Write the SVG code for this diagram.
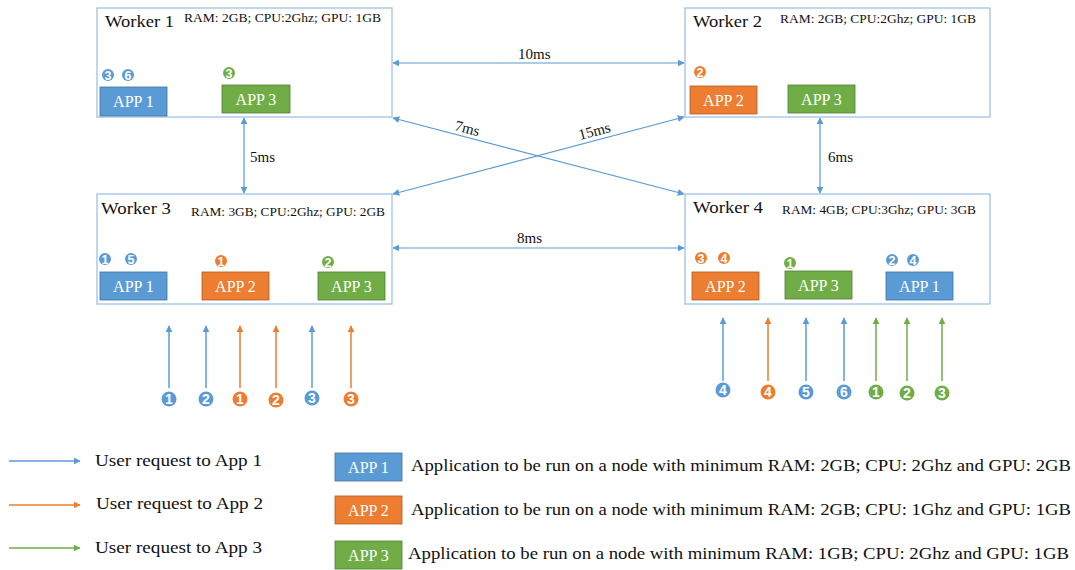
<svg xmlns="http://www.w3.org/2000/svg" width="1075" height="570" viewBox="0 0 1075 570">
<style>
.worker{fill:#fff;stroke:#9DC3E6;stroke-width:1.3}
.wt{font-family:"Liberation Serif",serif;font-size:16px;fill:#111}
.spec{font-family:"Liberation Serif",serif;font-size:12px;fill:#111}
.app{stroke-width:0.8}
.a1{fill:#5B9BD5;stroke:#41719C}
.a2{fill:#ED7D31;stroke:#AE5A21}
.a3{fill:#70AD47;stroke:#507E32}
.at{font-family:"Liberation Serif",serif;font-size:16px;fill:#fff;text-anchor:middle}
.num{font-family:"Liberation Sans",sans-serif;font-size:12.5px;font-weight:bold;fill:#fff;text-anchor:middle}
.num2{font-family:"Liberation Sans",sans-serif;font-size:14px;font-weight:bold;fill:#fff;text-anchor:middle}
.cb{fill:#5B9BD5}.co{fill:#ED7D31}.cg{fill:#70AD47}
.lat{font-family:"Liberation Serif",serif;font-size:15px;fill:#111}
.link{stroke:#5B9BD5;stroke-width:1.2;fill:none}
.rb{stroke:#5B9BD5;stroke-width:1.5}
.ro{stroke:#ED7D31;stroke-width:1.5}
.rg{stroke:#70AD47;stroke-width:1.5}
.leg{font-family:"Liberation Serif",serif;font-size:16px;fill:#111}
</style>
<defs>
<marker id="mb" viewBox="0 0 10 10" refX="9" refY="5" markerWidth="7" markerHeight="7" markerUnits="userSpaceOnUse" orient="auto-start-reverse"><path d="M0,0 L10,5 L0,10 z" fill="#5B9BD5"/></marker>
<marker id="mo" viewBox="0 0 10 10" refX="9" refY="5" markerWidth="7" markerHeight="7" markerUnits="userSpaceOnUse" orient="auto-start-reverse"><path d="M0,0 L10,5 L0,10 z" fill="#ED7D31"/></marker>
<marker id="mg" viewBox="0 0 10 10" refX="9" refY="5" markerWidth="7" markerHeight="7" markerUnits="userSpaceOnUse" orient="auto-start-reverse"><path d="M0,0 L10,5 L0,10 z" fill="#70AD47"/></marker>
</defs>
<rect width="1075" height="570" fill="#fff"/>

<g id="connectors">
<line class="link" x1="393" y1="63" x2="684" y2="63" marker-start="url(#mb)" marker-end="url(#mb)"/>
<line class="link" x1="393" y1="248" x2="684" y2="248" marker-start="url(#mb)" marker-end="url(#mb)"/>
<line class="link" x1="244" y1="118" x2="244" y2="193" marker-start="url(#mb)" marker-end="url(#mb)"/>
<line class="link" x1="820" y1="118" x2="820" y2="193" marker-start="url(#mb)" marker-end="url(#mb)"/>
<line class="link" x1="393" y1="118" x2="684" y2="194" marker-start="url(#mb)" marker-end="url(#mb)"/>
<line class="link" x1="393" y1="194" x2="684" y2="117" marker-start="url(#mb)" marker-end="url(#mb)"/>
<text class="lat" x="518" y="59">10ms</text>
<text class="lat" x="517" y="243">8ms</text>
<text class="lat" x="250" y="162">5ms</text>
<text class="lat" x="828" y="162">6ms</text>
<text class="lat" x="454" y="130" transform="rotate(14.7 454 130)">7ms</text>
<text class="lat" x="580" y="140" transform="rotate(-14.7 580 140)">15ms</text>
</g>

<g id="worker1">
<rect class="worker" x="97" y="8" width="295" height="109"/>
<text class="wt" x="105" y="27" textLength="69" lengthAdjust="spacingAndGlyphs">Worker 1</text>
<text class="spec" x="184" y="22" textLength="197" lengthAdjust="spacingAndGlyphs">RAM: 2GB; CPU:2Ghz; GPU: 1GB</text>
<circle class="cb" cx="108" cy="75" r="6"/><text class="num" x="108" y="79.5">3</text>
<circle class="cb" cx="128" cy="75" r="6"/><text class="num" x="128" y="79.5">6</text>
<circle class="cg" cx="229" cy="73" r="6"/><text class="num" x="229" y="77.5">3</text>
<rect class="app a1" x="100" y="87" width="67" height="29"/><text class="at" x="133.5" y="106.5">APP 1</text>
<rect class="app a3" x="222" y="85" width="68" height="28"/><text class="at" x="256" y="104.5">APP 3</text>
</g>

<g id="worker2">
<rect class="worker" x="685" y="8" width="305" height="109"/>
<text class="wt" x="693" y="27" textLength="69" lengthAdjust="spacingAndGlyphs">Worker 2</text>
<text class="spec" x="780" y="23" textLength="196" lengthAdjust="spacingAndGlyphs">RAM: 2GB; CPU:2Ghz; GPU: 1GB</text>
<circle class="co" cx="700" cy="72" r="6"/><text class="num" x="700" y="76.5">2</text>
<rect class="app a2" x="690" y="86" width="67" height="28"/><text class="at" x="723.5" y="105.5">APP 2</text>
<rect class="app a3" x="788" y="85" width="67" height="28"/><text class="at" x="821.5" y="104.5">APP 3</text>
</g>

<g id="worker3">
<rect class="worker" x="97" y="194" width="295" height="110"/>
<text class="wt" x="101" y="214" textLength="70" lengthAdjust="spacingAndGlyphs">Worker 3</text>
<text class="spec" x="191" y="216" textLength="194" lengthAdjust="spacingAndGlyphs">RAM: 3GB; CPU:2Ghz; GPU: 2GB</text>
<circle class="cb" cx="105" cy="259" r="6"/><text class="num" x="105" y="263.5">1</text>
<circle class="cb" cx="131" cy="259" r="6"/><text class="num" x="131" y="263.5">5</text>
<circle class="co" cx="221" cy="261" r="6"/><text class="num" x="221" y="265.5">1</text>
<circle class="cg" cx="328" cy="262" r="6"/><text class="num" x="328" y="266.5">2</text>
<rect class="app a1" x="100" y="272" width="67" height="28"/><text class="at" x="133.5" y="291.5">APP 1</text>
<rect class="app a2" x="202" y="272" width="67" height="28"/><text class="at" x="235.5" y="291.5">APP 2</text>
<rect class="app a3" x="318" y="272" width="67" height="28"/><text class="at" x="351.5" y="291.5">APP 3</text>
</g>

<g id="worker4">
<rect class="worker" x="685" y="194" width="305" height="110"/>
<text class="wt" x="693" y="213" textLength="70" lengthAdjust="spacingAndGlyphs">Worker 4</text>
<text class="spec" x="782" y="214" textLength="194" lengthAdjust="spacingAndGlyphs">RAM: 4GB; CPU:3Ghz; GPU: 3GB</text>
<circle class="co" cx="701" cy="258" r="6"/><text class="num" x="701" y="262.5">3</text>
<circle class="co" cx="724" cy="258" r="6"/><text class="num" x="724" y="262.5">4</text>
<circle class="cg" cx="790" cy="263" r="6"/><text class="num" x="790" y="267.5">1</text>
<circle class="cb" cx="892" cy="260" r="6"/><text class="num" x="892" y="264.5">2</text>
<circle class="cb" cx="913" cy="260" r="6"/><text class="num" x="913" y="264.5">4</text>
<rect class="app a2" x="692" y="272" width="67" height="28"/><text class="at" x="725.5" y="291.5">APP 2</text>
<rect class="app a3" x="785" y="271" width="67" height="28"/><text class="at" x="818.5" y="290.5">APP 3</text>
<rect class="app a1" x="886" y="272" width="67" height="28"/><text class="at" x="919.5" y="291.5">APP 1</text>
</g>

<g id="requests-w3">
<line class="rb" x1="169" y1="388" x2="169" y2="326" marker-end="url(#mb)"/>
<line class="rb" x1="206" y1="388" x2="206" y2="326" marker-end="url(#mb)"/>
<line class="ro" x1="240" y1="388" x2="240" y2="326" marker-end="url(#mo)"/>
<line class="ro" x1="276" y1="388" x2="276" y2="326" marker-end="url(#mo)"/>
<line class="rb" x1="312" y1="388" x2="312" y2="326" marker-end="url(#mb)"/>
<line class="ro" x1="351" y1="388" x2="351" y2="326" marker-end="url(#mo)"/>
<circle class="cb" cx="169" cy="399" r="7.5"/><text class="num2" x="169" y="404">1</text>
<circle class="cb" cx="206" cy="399" r="7.5"/><text class="num2" x="206" y="404">2</text>
<circle class="co" cx="240" cy="399" r="7.5"/><text class="num2" x="240" y="404">1</text>
<circle class="co" cx="276" cy="400" r="7.5"/><text class="num2" x="276" y="405">2</text>
<circle class="cb" cx="312" cy="398" r="7.5"/><text class="num2" x="312" y="403">3</text>
<circle class="co" cx="351" cy="399" r="7.5"/><text class="num2" x="351" y="404">3</text>
</g>

<g id="requests-w4">
<line class="rb" x1="723" y1="381" x2="723" y2="318" marker-end="url(#mb)"/>
<line class="ro" x1="768" y1="381" x2="768" y2="318" marker-end="url(#mo)"/>
<line class="rb" x1="806" y1="381" x2="806" y2="318" marker-end="url(#mb)"/>
<line class="rb" x1="844" y1="381" x2="844" y2="318" marker-end="url(#mb)"/>
<line class="rg" x1="876" y1="381" x2="876" y2="318" marker-end="url(#mg)"/>
<line class="rg" x1="907" y1="381" x2="907" y2="318" marker-end="url(#mg)"/>
<line class="rg" x1="942" y1="381" x2="942" y2="318" marker-end="url(#mg)"/>
<circle class="cb" cx="723" cy="390" r="7.5"/><text class="num2" x="723" y="395">4</text>
<circle class="co" cx="768" cy="392" r="7.5"/><text class="num2" x="768" y="397">4</text>
<circle class="cb" cx="806" cy="392" r="7.5"/><text class="num2" x="806" y="397">5</text>
<circle class="cb" cx="844" cy="392" r="7.5"/><text class="num2" x="844" y="397">6</text>
<circle class="cg" cx="876" cy="392" r="7.5"/><text class="num2" x="876" y="397">1</text>
<circle class="cg" cx="907" cy="393" r="7.5"/><text class="num2" x="907" y="398">2</text>
<circle class="cg" cx="942" cy="393" r="7.5"/><text class="num2" x="942" y="398">3</text>
</g>

<g id="legend-requests">
<line class="rb" x1="9" y1="461" x2="80" y2="461" stroke-width="1.3" marker-end="url(#mb)"/>
<line class="ro" x1="9" y1="505" x2="80" y2="505" stroke-width="1.3" marker-end="url(#mo)"/>
<line class="rg" x1="9" y1="548" x2="80" y2="548" stroke-width="1.3" marker-end="url(#mg)"/>
<text class="leg" x="95" y="466" textLength="167" lengthAdjust="spacingAndGlyphs">User request to App 1</text>
<text class="leg" x="96" y="509" textLength="167" lengthAdjust="spacingAndGlyphs">User request to App 2</text>
<text class="leg" x="95" y="553" textLength="167" lengthAdjust="spacingAndGlyphs">User request to App 3</text>
</g>

<g id="legend-apps">
<rect class="app a1" x="335" y="453" width="67" height="28"/><text class="at" x="368.5" y="472.5">APP 1</text>
<rect class="app a2" x="335" y="496" width="67" height="28"/><text class="at" x="368.5" y="515.5">APP 2</text>
<rect class="app a3" x="335" y="541" width="67" height="28"/><text class="at" x="368.5" y="560.5">APP 3</text>
<text class="leg" x="411" y="471" textLength="660" lengthAdjust="spacingAndGlyphs">Application to be run on a node with minimum RAM: 2GB; CPU: 2Ghz and GPU: 2GB</text>
<text class="leg" x="411" y="515" textLength="660" lengthAdjust="spacingAndGlyphs">Application to be run on a node with minimum RAM: 2GB; CPU: 1Ghz and GPU: 1GB</text>
<text class="leg" x="408" y="559" textLength="661" lengthAdjust="spacingAndGlyphs">Application to be run on a node with minimum RAM: 1GB; CPU: 2Ghz and GPU: 1GB</text>
</g>
</svg>
